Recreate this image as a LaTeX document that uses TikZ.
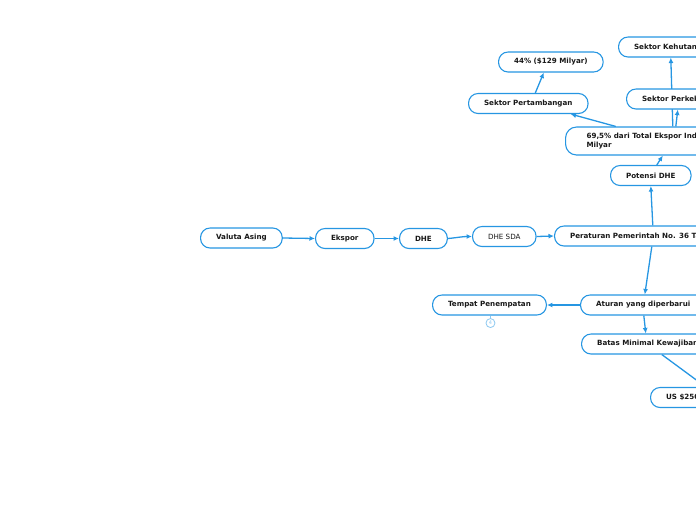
\documentclass[tikz,border=0pt]{standalone}
\usepackage{fontspec}
\setmainfont{DejaVu Sans}
\usetikzlibrary{arrows.meta,calc,backgrounds}
\definecolor{mmblue}{RGB}{38,150,226}
\definecolor{mmlight}{RGB}{140,200,240}
\definecolor{mmtext}{RGB}{25,25,25}
\tikzset{
  topic/.style={draw=mmblue,line width=1.1pt,fill=white,rounded corners=9.5pt,
    minimum height=20pt,inner xsep=15.5pt,inner ysep=0pt,anchor=west,
    text=mmtext,font=\fontsize{7.15}{9}\selectfont\bfseries},
  plaintopic/.style={topic,font=\fontsize{7.15}{9}\selectfont},
  conn/.style={draw=mmblue,line width=1.3pt,-{Latex[length=5.5pt,width=5pt]}},
}
\begin{document}
\begin{tikzpicture}[x=1pt,y=-1pt]
\useasboundingbox (0,0) rectangle (696,520);
\node[topic] (va) at (200,238) {Valuta Asing};
\node[topic] (ek) at (315,238.5) {Ekspor};
\node[topic] (dhe) at (399,238.5) {DHE};
\node[plaintopic] (sda) at (472,236.5) {DHE SDA};
\node[topic] (pp) at (554,236) {Peraturan Pemerintah No. 36 Tahun 2023};
\node[topic] (pd) at (610,175.5) {Potensi DHE};
\node[topic,minimum height=28pt,align=left,rounded corners=11pt,inner xsep=21pt] (p69) at (565,141) {69,5\% dari Total Ekspor Indonesia\\Milyar};
\node[topic] (tb) at (468,103.5) {Sektor Pertambangan};
\node[topic] (p44) at (498,62) {44\% (\$129 Milyar)};
\node[topic] (kh) at (618,47) {Sektor Kehutanan};
\node[topic] (pk) at (626,99) {Sektor Perkebunan};
\node[topic] (at) at (580,305) {Aturan yang diperbarui};
\node[topic] (tp) at (432,305) {Tempat Penempatan};
\node[topic] (bm) at (581,344) {Batas Minimal Kewajiban};
\node[topic] (us) at (650,397.5) {US \$250.000};
\node[circle,draw=mmlight,line width=0.8pt,minimum size=9pt,inner sep=0pt,text=mmlight,font=\fontsize{5}{5}\selectfont] (tpc) at ($(tp.south)+(1,7.5)$) {4};
\begin{pgfonlayer}{background}
\draw[conn] (va.east) -- (ek.west);
\draw[conn] (ek.east) -- (dhe.west);
\draw[conn] (dhe.east) to[out=5,in=180] (sda.west);
\draw[conn] (sda.east) -- (pp.west);
\draw[conn] ($(pp.north -| pd.south)+(2,0)$) -- (pd.south);
\draw[conn] ($(pd.north)+(6,0)$) -- ($(p69.south -| pd.north)+(12,0)$);
\draw[conn] ($(p69.north -| pd.north)+(-35,0)$) -- ($(tb.south east)+(-18,0)$);
\draw[conn] ($(tb.north)+(7,0)$) -- ($(p44.south)+(-7,0)$);
\draw[conn] ($(p69.north -| pd.north)+(22,0)$) -- ($(kh.south -| pd.north)+(20,0)$);
\draw[conn] ($(p69.north -| pd.north)+(25,0)$) -- ($(pk.south -| pd.north)+(27,0)$);
\draw[conn] ($(pp.south -| pd.south)+(1,0)$) -- ($(at.north -| pd.south)+(-6,0)$);
\draw[conn] (at.west) -- (tp.east);
\draw[conn] ($(at.south -| pd.south)+(-7,0)$) -- ($(bm.north -| pd.south)+(-5,0)$);
\draw[conn] ($(bm.south -| pd.south)+(11,0)$) -- ($(us.north -| pd.south)+(55,0)$);
\draw[draw=mmlight,line width=0.8pt] ($(tp.south)+(1,0)$) -- (tpc.north);
\end{pgfonlayer}
\end{tikzpicture}
\end{document}
